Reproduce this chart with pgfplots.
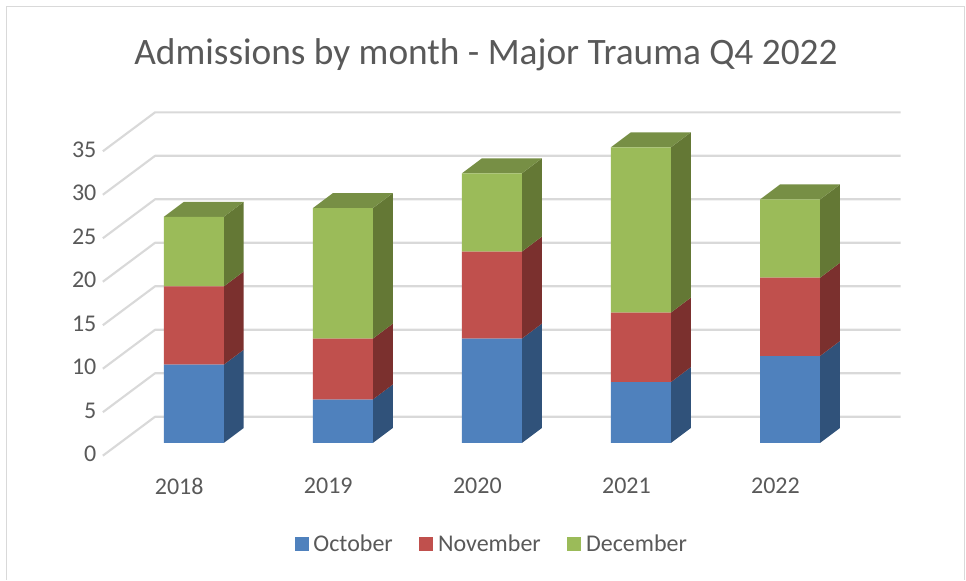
\documentclass[border=0pt]{standalone}
\usepackage{fontspec}
\setmainfont{Carlito}
\usepackage{pgfplots}
\pgfplotsset{compat=1.18}

\definecolor{txt}{HTML}{595959}
\definecolor{gridc}{HTML}{D9D9D9}
\definecolor{oct}{HTML}{4F81BD}
\definecolor{nov}{HTML}{C0504D}
\definecolor{dec}{HTML}{9BBB59}
\definecolor{octside}{HTML}{30527A}
\definecolor{novside}{HTML}{7B302E}
\definecolor{decside}{HTML}{647835}
\definecolor{dectop}{HTML}{778F45}

% half bar width and the depth offset of the fake 3D, in axis units
\def\hw{0.2012}
\def\ddx{0.1341}
\def\ddy{1.724}

% x, from, to, colour
\newcommand{\barside}[4]{%
  \addplot[fill=#4, draw=none] coordinates {(#1+\hw,#2) (#1+\hw+\ddx,#2+\ddy) (#1+\hw+\ddx,#3+\ddy) (#1+\hw,#3)};
}
% x, total
\newcommand{\bartop}[2]{%
  \addplot[fill=dectop, draw=none] coordinates {(#1-\hw,#2) (#1-\hw+\ddx,#2+\ddy) (#1+\hw+\ddx,#2+\ddy) (#1+\hw,#2)};
}
% value of the gridline
\newcommand{\wallgrid}[1]{%
  \addplot[gridc, line width=1.6pt, line join=round] coordinates {(-0.610,#1-1.46) (-0.2596,#1+3.02) (4.742,#1+3.02)};
}

\pgfplotsset{
  chartbox/.style={
    scale only axis, width=724.5pt, height=435pt,
    xmin=-1.2991, xmax=5.18, ymin=-15.75, ymax=50.92,
    clip=false,
  },
}

\begin{document}
\begin{tikzpicture}
% walls, gridlines, side and top faces
\begin{axis}[
  chartbox,
  axis line style={draw=none},
  major tick length=0pt,
  xtick={0,1,2,3,4},
  xticklabels={2018,2019,2020,2021,2022},
  ytick={0,5,...,35},
  /pgf/number format/assume math mode=true,
  tick label style={font=\fontsize{18}{20}\selectfont, text=txt},
  yticklabel style={anchor=east, xshift=75.75pt, yshift=-8.3pt},
  xticklabel style={anchor=center, xshift=-10.9pt, yshift=70.5pt},
  title={Admissions by month - Major Trauma Q4 2022},
  title style={at={(0.5,0.9086)}, anchor=center, xshift=2.25pt, yshift=-7.5pt, font=\fontsize{28}{32}\selectfont, text=txt},
]
\addplot[gridc, line width=0.9pt] coordinates {(-1.2589,-15.75) (-1.2589,50.23) (5.173,50.23) (5.173,-15.75)};
\wallgrid{0}\wallgrid{5}\wallgrid{10}\wallgrid{15}\wallgrid{20}\wallgrid{25}\wallgrid{30}\wallgrid{35}

\barside{0}{0}{9}{octside}\barside{0}{9}{18}{novside}\barside{0}{18}{26}{decside}\bartop{0}{26}
\barside{1}{0}{5}{octside}\barside{1}{5}{12}{novside}\barside{1}{12}{27}{decside}\bartop{1}{27}
\barside{2}{0}{12}{octside}\barside{2}{12}{22}{novside}\barside{2}{22}{31}{decside}\bartop{2}{31}
\barside{3}{0}{7}{octside}\barside{3}{7}{15}{novside}\barside{3}{15}{34}{decside}\bartop{3}{34}
\barside{4}{0}{10}{octside}\barside{4}{10}{19}{novside}\barside{4}{19}{28}{decside}\bartop{4}{28}
\end{axis}
% front faces
\begin{axis}[
  chartbox,
  ybar stacked, bar width=0.4024,
  axis line style={draw=none},
  major tick length=0pt,
  xtick=\empty, ytick=\empty,
  legend columns=3,
  legend image code/.code={\fill[#1] (0pt,-5.25pt) rectangle (10.5pt,5.25pt);},
  legend style={
    at={(0.5,0.0621)}, anchor=center, xshift=6.9pt, draw=none, fill=none,
    font=\fontsize{18}{20}\selectfont, text=txt,
    /tikz/every odd column/.append style={column sep=1.5pt},
    /tikz/every even column/.append style={column sep=18pt},
  },
]
\addplot[fill=oct, draw=none] coordinates {(0,9) (1,5) (2,12) (3,7) (4,10)};
\addplot[fill=nov, draw=none] coordinates {(0,9) (1,7) (2,10) (3,8) (4,9)};
\addplot[fill=dec, draw=none] coordinates {(0,8) (1,15) (2,9) (3,19) (4,9)};
\legend{October,November,December}
\end{axis}
\end{tikzpicture}
\end{document}
